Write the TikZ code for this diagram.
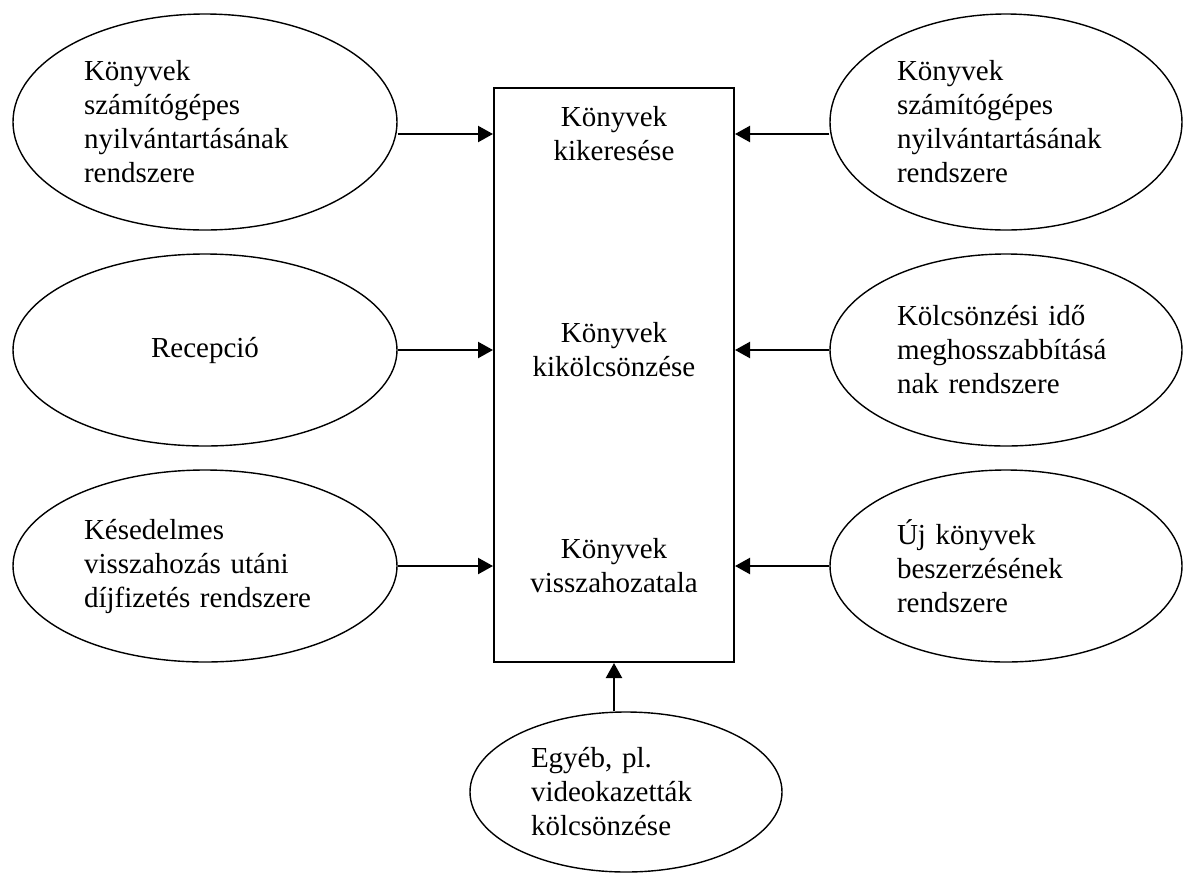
\documentclass[tikz,border=0pt]{standalone}
\usepackage{fontspec}
\setmainfont{Liberation Serif}
\usetikzlibrary{arrows.meta,shapes.geometric}

\tikzset{
  txt/.style={font=\fontsize{14.5pt}{17pt}\selectfont},
  oval/.style={txt, draw, ellipse, line width=0.7pt, inner sep=0pt, align=left},
  leftoval/.style={oval, minimum width=192pt, text width=121pt},
  rightoval/.style={oval, minimum width=176pt, text width=109pt},
  mainbox/.style={draw, rectangle, line width=1pt, minimum width=120pt, minimum height=287pt},
  boxtext/.style={txt, align=center, inner sep=0pt},
  arr/.style={line width=1.1pt, -{Triangle[length=7.5pt,width=8pt]}}
}

\begin{document}
\begin{tikzpicture}[x=0.5pt,y=-0.5pt]
  \useasboundingbox (0,0) rectangle (1184,874);

  % Main box
  \node[mainbox] (box) at (614,375) {};
  \node[boxtext] (t1) at (614,134) {Könyvek\\kikeresése};
  \node[boxtext] (t2) at (614,350) {Könyvek\\kikölcsönzése};
  \node[boxtext] (t3) at (614,566) {Könyvek\\visszahozatala};

  % Left side
  \node[leftoval, minimum height=108pt] (l1) at (205,122)
    {Könyvek\\számítógépes\\nyilvántartásának\\rendszere};
  \node[oval, minimum width=192pt, minimum height=96pt, align=center] (l2) at (205,350) {Recepció};
  \node[leftoval, minimum height=96pt] (l3) at (205,566)
    {Késedelmes\\visszahozás utáni\\díjfizetés rendszere};

  % Right side
  \node[rightoval, minimum height=108pt] (r1) at (1006,122)
    {Könyvek\\számítógépes\\nyilvántartásának\\rendszere};
  \node[rightoval, minimum height=96pt] (r2) at (1006,350)
    {Kölcsönzési idő\\meghosszabbításá\\nak rendszere};
  \node[rightoval, minimum height=96pt] (r3) at (1006,566)
    {Új könyvek\\beszerzésének\\rendszere};

  % Bottom
  \node[oval, minimum width=156pt, minimum height=80pt, text width=95pt] (b) at (626,792)
    {Egyéb, pl.\\videokazetták\\kölcsönzése};

  % Arrows
  \draw[arr] (l1.east |- t1) -- (box.west |- t1);
  \draw[arr] (l2.east |- t2) -- (box.west |- t2);
  \draw[arr] (l3.east |- t3) -- (box.west |- t3);
  \draw[arr] (r1.west |- t1) -- (box.east |- t1);
  \draw[arr] (r2.west |- t2) -- (box.east |- t2);
  \draw[arr] (r3.west |- t3) -- (box.east |- t3);
  \draw[arr] (b.north -| box.south) -- (box.south);
\end{tikzpicture}
\end{document}
